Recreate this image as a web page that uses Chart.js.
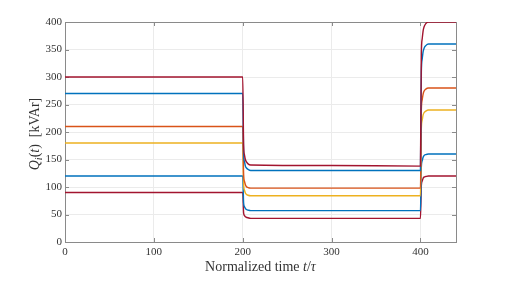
<!DOCTYPE html>
<html lang="en">
<head>
<meta charset="UTF-8">
<title>Q_i(t)</title>
<script src="https://cdn.jsdelivr.net/npm/chart.js@4.4.0/dist/chart.umd.min.js"></script>
<style>
    body{ margin:0; background:#fff; }
    #board{ width:507px; height:291px; }
</style>
</head>
<body>
<div id="board"><canvas id="chart1" width="507" height="291"></canvas></div>
<script>
    // normalized time t/tau
    const time    = [0, 200, 201, 202, 203, 204, 206, 209, 300, 400, 401, 402, 403, 404, 406, 409, 440];
    // reactive power per unit [kVAr]
    const q1 = [300, 300, 176, 158, 150, 146, 142, 140, 139, 138, 342, 370, 384, 391, 397, 400, 400];
    const q2 = [270, 270, 161, 146, 138, 135, 132, 130, 130, 130, 309, 333, 346, 352, 357, 360, 360];
    const q3 = [210, 210, 122, 110, 104, 101,  99,  98,  98,  98, 240, 259, 269, 274, 278, 280, 280];
    const q4 = [180, 180, 105,  94,  89,  87,  85,  84,  84,  84, 206, 222, 231, 235, 238, 240, 240];
    const q5 = [120, 120,  71,  64,  61,  59,  58,  57,  57,  57, 137, 148, 154, 157, 159, 160, 160];
    const q6 = [ 90,  90,  53,  48,  46,  45,  44,  43,  43,  43, 103, 111, 116, 118, 119, 120, 120];
    const xTicks = [0, 100, 200, 300, 400];
    const yTicks = [0, 50, 100, 150, 200, 250, 300, 350, 400];

    const series = [q1, q2, q3, q4, q5, q6];
    const colors = ['#A2142F', '#0072BD', '#D95319', '#EDB120', '#0072BD', '#A2142F'];

    const serif = '"Liberation Serif", "DejaVu Serif", serif';
    const ink = '#333333';

    // matlab style box with inward ticks
    const frame = {
        id: 'frame',
        beforeDatasetsDraw(chart) {
            const {ctx, chartArea: a, scales} = chart;
            ctx.save();
            ctx.strokeStyle = '#8a8a8a';
            ctx.lineWidth = 1;
            ctx.strokeRect(Math.round(a.left) + 0.5, Math.round(a.top) + 0.5,
                Math.round(a.right - a.left), Math.round(a.bottom - a.top));
            ctx.beginPath();
            xTicks.forEach(v => {
                const x = Math.round(scales.x.getPixelForValue(v)) + 0.5;
                ctx.moveTo(x, a.bottom); ctx.lineTo(x, a.bottom - 4);
                ctx.moveTo(x, a.top); ctx.lineTo(x, a.top + 4);
            });
            yTicks.forEach(v => {
                const y = Math.round(scales.y.getPixelForValue(v)) + 0.5;
                ctx.moveTo(a.left, y); ctx.lineTo(a.left + 4, y);
                ctx.moveTo(a.right, y); ctx.lineTo(a.right - 4, y);
            });
            ctx.stroke();
            ctx.restore();
        },
        afterDraw(chart) {
            const {ctx, chartArea: a} = chart;
            const put = (parts, x, y) => {
                let w = 0;
                parts.forEach(p => { ctx.font = p[1]; w += ctx.measureText(p[0]).width; });
                let cx = x - w / 2;
                parts.forEach(p => {
                    ctx.font = p[1];
                    ctx.fillText(p[0], cx, y + (p[2] || 0));
                    cx += ctx.measureText(p[0]).width;
                });
            };
            ctx.save();
            ctx.fillStyle = ink;
            ctx.textBaseline = 'alphabetic';
            put([
                ['Normalized time ', '14px ' + serif],
                ['t', 'italic 14px ' + serif],
                ['/', '14px ' + serif],
                ['\u03c4', 'italic 14px ' + serif]
            ], (a.left + a.right) / 2, 271);

            ctx.translate(39, (a.top + a.bottom) / 2 + 2);
            ctx.rotate(-Math.PI / 2);
            put([
                ['Q', 'italic 14px ' + serif],
                ['i', 'italic 10px ' + serif, 3],
                ['(', '14px ' + serif],
                ['t', 'italic 14px ' + serif],
                [')  [kVAr]', '14px ' + serif]
            ], 0, 0);
            ctx.restore();
        }
    };

    const ctx = document.getElementById('chart1').getContext('2d');
    new Chart(ctx, {
        type: 'line',
        data: {
            datasets: series.map((s, i) => ({
                data: time.map((t, k) => ({x: t, y: s[k]})),
                borderColor: colors[i],
                borderWidth: 1.4,
                pointRadius: 0,
                cubicInterpolationMode: 'monotone',
                fill: false
            }))
        },
        options: {
            responsive: false,
            animation: false,
            layout: { padding: { top: 22, right: 51, bottom: 0, left: 0 } },
            plugins: { legend: { display: false }, tooltip: { enabled: false } },
            scales: {
                x: {
                    type: 'linear',
                    min: 0, max: 440,
                    afterBuildTicks: s => { s.ticks = xTicks.map(v => ({value: v})); },
                    afterFit: s => { s.height = 49; },
                    border: { display: false },
                    grid: { color: '#ebebeb', drawTicks: false },
                    ticks: { padding: 4, maxRotation: 0, color: ink, font: { family: serif, size: 11 } }
                },
                y: {
                    min: 0, max: 400,
                    afterBuildTicks: s => { s.ticks = yTicks.map(v => ({value: v})); },
                    afterFit: s => { s.width = 65; },
                    border: { display: false },
                    grid: { color: '#ebebeb', drawTicks: false },
                    ticks: { padding: 3, color: ink, font: { family: serif, size: 11 } }
                }
            }
        },
        plugins: [frame]
    });
</script>
</body>
</html>
